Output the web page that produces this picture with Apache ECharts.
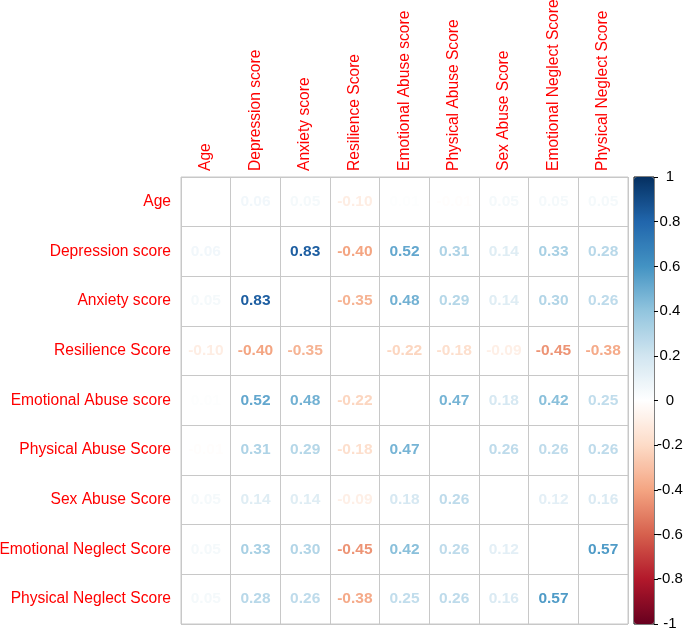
<!DOCTYPE html>
<html>
<head>
<meta charset="utf-8">
<script src="https://cdn.jsdelivr.net/npm/echarts@6/dist/echarts.min.js"></script>
<style>html,body{margin:0;padding:0;background:#fff}#c{width:685px;height:632px}</style>
</head>
<body>
<div id="c"></div>
<script>
const categories = ["Age", "Depression score", "Anxiety score", "Resilience Score", "Emotional Abuse score", "Physical Abuse Score", "Sex Abuse Score", "Emotional Neglect Score", "Physical Neglect Score"];
const rowAge               = [null, 0.06, 0.05, -0.10, 0.01, -0.01, 0.05, 0.05, 0.05];
const rowDepression        = [0.06, null, 0.83, -0.40, 0.52, 0.31, 0.14, 0.33, 0.28];
const rowAnxiety           = [0.05, 0.83, null, -0.35, 0.48, 0.29, 0.14, 0.30, 0.26];
const rowResilience        = [-0.10, -0.40, -0.35, null, -0.22, -0.18, -0.09, -0.45, -0.38];
const rowEmotionalAbuse    = [0.01, 0.52, 0.48, -0.22, null, 0.47, 0.18, 0.42, 0.25];
const rowPhysicalAbuse     = [-0.01, 0.31, 0.29, -0.18, 0.47, null, 0.26, 0.26, 0.26];
const rowSexAbuse          = [0.05, 0.14, 0.14, -0.09, 0.18, 0.26, null, 0.12, 0.16];
const rowEmotionalNeglect  = [0.05, 0.33, 0.30, -0.45, 0.42, 0.26, 0.12, null, 0.57];
const rowPhysicalNeglect   = [0.05, 0.28, 0.26, -0.38, 0.25, 0.26, 0.16, 0.57, null];
const colorbarTicks = [-1, -0.8, -0.6, -0.4, -0.2, 0, 0.2, 0.4, 0.6, 0.8, 1];
const colorbarLabels = ["-1", "-0.8", "-0.6", "-0.4", "-0.2", "0", "0.2", "0.4", "0.6", "0.8", "1"];

const rows = [rowAge, rowDepression, rowAnxiety, rowResilience, rowEmotionalAbuse, rowPhysicalAbuse, rowSexAbuse, rowEmotionalNeglect, rowPhysicalNeglect];
const palette = ["#67001F", "#B2182B", "#D6604D", "#F4A582", "#FDDBC7", "#FFFFFF", "#D1E5F0", "#92C5DE", "#4393C3", "#2166AC", "#053061"];

const cellData = [];
rows.forEach((r, i) => r.forEach((v, j) => { if (v !== null) cellData.push([j, i, v]); }));
const tickData = colorbarTicks.map((t, i) => [0, t, i]);

const FONT = '"Liberation Sans", Arial, sans-serif';
const chart = echarts.init(document.getElementById('c'), null, {renderer: 'canvas'});
chart.setOption({
  backgroundColor: '#fff',
  animation: false,
  grid: [
    {left: 181, top: 177, width: 447, height: 447, show: true, borderColor: '#c8c8c8', borderWidth: 1,
     backgroundColor: 'transparent', containLabel: false, outerBoundsMode: 'none'},
    {left: 634, top: 177, width: 20, height: 447, show: false, containLabel: false, outerBoundsMode: 'none'}
  ],
  xAxis: [
    {type: 'category', data: categories, position: 'top', gridIndex: 0,
     axisLine: {show: false}, axisTick: {show: false},
     splitLine: {show: true, interval: 0, lineStyle: {color: '#c8c8c8', width: 1}},
     axisLabel: {rotate: -90, interval: 0, color: '#ff0000', fontSize: 15.6, fontFamily: FONT, margin: 6}},
    {type: 'category', data: ['cb'], gridIndex: 1, show: false}
  ],
  yAxis: [
    {type: 'category', data: categories, inverse: true, gridIndex: 0,
     axisLine: {show: false}, axisTick: {show: false},
     splitLine: {show: true, interval: 0, lineStyle: {color: '#c8c8c8', width: 1}},
     axisLabel: {interval: 0, color: '#ff0000', fontSize: 15.6, fontFamily: FONT, margin: 10}},
    {type: 'value', gridIndex: 1, min: colorbarTicks[0], max: colorbarTicks[colorbarTicks.length - 1], interval: 0.2,
     position: 'right', axisLine: {show: false}, splitLine: {show: false},
     axisTick: {show: true, length: 4, lineStyle: {color: '#000'}},
     axisLabel: {show: false}}
  ],
  visualMap: {
    type: 'continuous', min: -1, max: 1, dimension: 2, seriesIndex: 0,
    calculable: false, show: true, orient: 'vertical',
    left: 634, top: 177, itemWidth: 20, itemHeight: 447, padding: 0,
    text: null, showLabel: false,
    inRange: {color: palette}
  },
  series: [
    {
      type: 'custom', xAxisIndex: 0, yAxisIndex: 0, data: cellData,
      encode: {x: 0, y: 1},
      renderItem: function (params, api) {
        const v = api.value(2);
        const p = api.coord([api.value(0), api.value(1)]);
        return {
          type: 'text', x: p[0], y: p[1],
          style: {text: v.toFixed(2), fill: api.visual('color'), fontSize: 15.5, fontWeight: 'bold',
                  fontFamily: FONT, align: 'center', verticalAlign: 'middle'}
        };
      }
    },
    {
      type: 'custom', xAxisIndex: 1, yAxisIndex: 1, data: [[0, colorbarTicks[0], colorbarTicks[colorbarTicks.length - 1]]],
      encode: {x: 0, y: [1, 2]},
      renderItem: function (params, api) {
        const lo = api.coord([api.value(0), api.value(1)]);
        const hi = api.coord([api.value(0), api.value(2)]);
        const s = api.size([1, 0]);
        return {type: 'rect', shape: {x: lo[0] - s[0] / 2, y: hi[1], width: s[0], height: lo[1] - hi[1]},
                style: {fill: 'none', stroke: '#000', lineWidth: 1}};
      }
    },
    {
      type: 'custom', xAxisIndex: 1, yAxisIndex: 1, data: tickData,
      encode: {x: 0, y: 1},
      renderItem: function (params, api) {
        const p = api.coord([api.value(0), api.value(1)]);
        const s = api.size([1, 0]);
        return {type: 'text', x: p[0] + s[0] / 2 + 16, y: p[1],
                style: {text: colorbarLabels[api.value(2)], fill: '#000', fontSize: 15, fontFamily: FONT,
                        align: 'center', verticalAlign: 'middle'}};
      }
    }
  ]
});
</script>
</body>
</html>
